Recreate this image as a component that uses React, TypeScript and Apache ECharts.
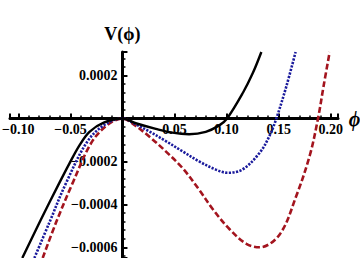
import React, { useEffect, useRef } from 'react';
import * as echarts from 'echarts';

// phi values and potential values
const blackPhi = [-0.0962, -0.0784, -0.0606, -0.051, -0.0413, -0.0317, -0.018, 0, 0.0128, 0.032, 0.048, 0.064, 0.08, 0.093, 0.1005, 0.1157, 0.1253, 0.1334];
const blackV = [-0.00065, -0.000472, -0.0003, -0.00021, -0.000125, -0.000062, -0.000019, 0, -0.000022, -0.000048, -0.000066, -0.000073, -0.000062, -0.000032, 0, 0.00012, 0.000213, 0.00031];

const bluePhi = [-0.0846, -0.0702, -0.0541, -0.0334, -0.016, 0, 0.0128, 0.0257, 0.0416, 0.0577, 0.0737, 0.0897, 0.101, 0.1154, 0.1317, 0.1413, 0.1478, 0.1574, 0.1663];
const blueV = [-0.00065, -0.000485, -0.0003, -0.000105, -0.000025, 0, -0.000027, -0.00006, -0.000105, -0.000153, -0.0002, -0.000238, -0.000253, -0.000237, -0.00016, -0.00008, 0, 0.00015, 0.00031];

const redPhi = [-0.0766, -0.0638, -0.0478, -0.0301, -0.015, 0, 0.0128, 0.0257, 0.0416, 0.0577, 0.0737, 0.0868, 0.1029, 0.119, 0.1317, 0.151, 0.167, 0.18, 0.1878, 0.1933, 0.199];
const redV = [-0.00065, -0.000485, -0.0003, -0.000115, -0.000032, 0, -0.000035, -0.000084, -0.000153, -0.000231, -0.000332, -0.000423, -0.000516, -0.000584, -0.0006, -0.00054, -0.00036, -0.00017, 0, 0.000155, 0.00031];

const xTickLabels = [-0.1, -0.05, 0.05, 0.1, 0.15, 0.2];
const yTickLabels = [-0.0006, -0.0004, -0.0002, 0.0002];

const X_MIN = -0.108;
const X_MAX = 0.207;
const Y_MIN = -0.00065;
const Y_MAX = 0.00031;

const zip = (a: number[], b: number[]) => a.map((x, i) => [x, b[i]]);

const FONT = '"Liberation Serif", "DejaVu Serif", serif';

export default function App() {
  const ref = useRef<HTMLDivElement>(null);
  useEffect(() => {
    const chart = echarts.init(ref.current!, null, { renderer: 'svg' });
    const W = 360;
    const H = 258;
    const grid = { left: 10, right: 22, top: 52, bottom: 0 };
    const gw = W - grid.left - grid.right;
    const gh = H - grid.top - grid.bottom;
    // place the axes through the origin
    const xAxisOffset = -((0 - Y_MIN) / (Y_MAX - Y_MIN)) * gh;
    const yAxisOffset = -((0 - X_MIN) / (X_MAX - X_MIN)) * gw;
    const labelStyle = { fontFamily: FONT, fontWeight: 'bold' as const, fontSize: 14, color: '#000' };
    chart.setOption({
      animation: false,
      backgroundColor: '#fff',
      grid: { ...grid, containLabel: false, outerBoundsMode: 'none' },
      xAxis: {
        type: 'value',
        position: 'bottom',
        offset: xAxisOffset,
        min: X_MIN,
        max: X_MAX,
        splitNumber: 6,
        name: 'ϕ',
        nameLocation: 'end',
        nameGap: 7,
        nameTextStyle: { fontFamily: FONT, fontWeight: 'bold', fontStyle: 'italic', fontSize: 20, color: '#000', verticalAlign: 'middle', padding: [4, 0, 0, 0] },
        axisLine: { onZero: false, lineStyle: { color: '#000', width: 3 } },
        axisTick: { inside: true, length: 5, lineStyle: { color: '#000', width: 2 } },
        minorTick: { show: true, splitNumber: 5, length: 3, lineStyle: { color: '#000', width: 1.5 } },
        splitLine: { show: false },
        axisLabel: {
          ...labelStyle,
          margin: 4,
          showMinLabel: false,
          showMaxLabel: false,
          formatter: (v: number) => {
            const hit = xTickLabels.find((t) => Math.abs(t - v) < 1e-9);
            if (hit === undefined) return '';
            return hit.toFixed(2).replace('-', '\u2212');
          },
        },
      },
      yAxis: {
        type: 'value',
        position: 'left',
        offset: yAxisOffset,
        min: Y_MIN,
        max: Y_MAX,
        splitNumber: 5,
        name: 'V(ϕ)',
        nameLocation: 'end',
        nameGap: 9,
        nameTextStyle: { fontFamily: FONT, fontWeight: 'bold', fontSize: 18, color: '#000' },
        axisLine: { onZero: false, lineStyle: { color: '#000', width: 3 } },
        axisTick: { inside: true, length: 5, lineStyle: { color: '#000', width: 2 } },
        minorTick: { show: true, splitNumber: 5, length: 3, lineStyle: { color: '#000', width: 1.5 } },
        splitLine: { show: false },
        axisLabel: {
          ...labelStyle,
          margin: 5,
          showMinLabel: false,
          showMaxLabel: false,
          formatter: (v: number) => {
            const hit = yTickLabels.find((t) => Math.abs(t - v) < 1e-12);
            if (hit === undefined) return '';
            return hit.toFixed(4).replace('-', '\u2212');
          },
        },
      },
      series: [
        {
          type: 'line',
          data: zip(blackPhi, blackV),
          showSymbol: false,
          smooth: 0.35,
          lineStyle: { color: '#000', width: 2.4 },
          z: 3,
        },
        {
          type: 'line',
          data: zip(bluePhi, blueV),
          showSymbol: false,
          smooth: 0.35,
          lineStyle: { color: '#1a1a9c', width: 2.6, type: [2.2, 1.4], cap: 'butt' },
          z: 2,
        },
        {
          type: 'line',
          data: zip(redPhi, redV),
          showSymbol: false,
          smooth: 0.35,
          lineStyle: { color: '#a3141e', width: 2.6, type: [6, 2.8], cap: 'butt' },
          z: 1,
        },
      ],
    });
    return () => chart.dispose();
  }, []);
  return (
    <div
      ref={ref}
      style={{ position: 'fixed', left: 0, top: 0, width: 360, height: 258, background: '#fff' }}
    />
  );
}
